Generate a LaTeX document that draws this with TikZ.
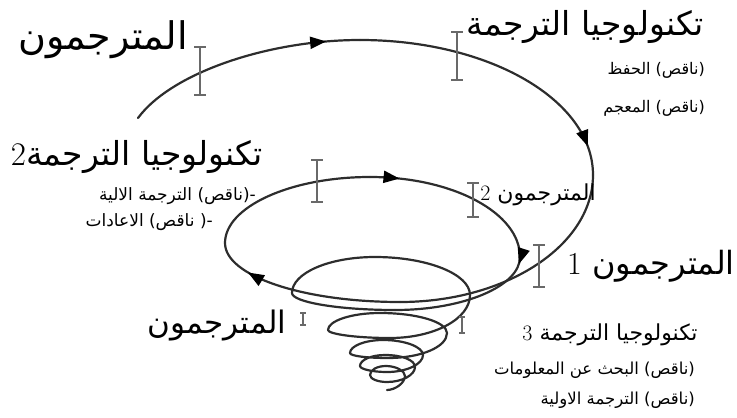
\documentclass[tikz,border=0pt]{standalone}
\usepackage{fontspec}
\usepackage{tikz}
\usetikzlibrary{arrows.meta,decorations.markings}
\TeXXeTstate=1
\newfontfamily\arabicfont[Script=Arabic]{DejaVu Sans}
\definecolor{coilgray}{RGB}{45,45,45}
\definecolor{tickgray}{RGB}{105,105,105}

\begin{document}
\begin{tikzpicture}[x=1pt, y=-1pt, line cap=round, line join=round,
  coil/.style={draw=coilgray, line width=2.2pt},
  coilhead/.style={postaction={decorate}, decoration={markings,
    mark=at position #1 with {\arrow{Triangle[length=16pt,width=12pt,color=black]}}}},
  tickmark/.style={draw=tickgray, line width=2pt, line cap=butt},
  word/.style={font=\arabicfont\fontsize{#1}{#1}\selectfont, inner sep=0pt}]
  \useasboundingbox (0,0) rectangle (737,418);

  % Outer turn: each quarter is drawn on its own so that it can carry its
  % own arrow head.
  \draw[coil, coilhead=.86] (138,118) .. controls (172,72) and (270,40) .. (360,40);
  \draw[coil, coilhead=.9] (360,40) .. controls (489,40) and (593,100) .. (593,175);
  \draw[coil] (593,175) .. controls (593,245) and (507,302) .. (400,302);
  \draw[coil, coilhead=.8] (400,302) .. controls (303,302) and (225,276) .. (225,243);

  % Second turn.
  \draw[coil] (225,243) .. controls (225,207) and (290,177) .. (370,177);
  \draw[coil, coilhead=.16] (370,177) .. controls (453,177) and (520,213) .. (520,257);
  \draw[coil, coilhead=.05] (520,257) .. controls (520,286) and (464,310) .. (395,310);

  % The inner turns narrow down to the tip of the funnel.
  \draw[coil] (395,310)
    .. controls (338,310) and (292,302) .. (292,293)
    .. controls (292,273) and (329,257) .. (375,257)
    .. controls (427,257) and (470,274) .. (470,295)
    .. controls (470,319) and (434,338) .. (390,338)
    .. controls (356,338) and (328,334) .. (328,330)
    .. controls (328,321) and (351,313) .. (380,313)
    .. controls (417,313) and (447,322) .. (447,333)
    .. controls (447,347) and (421,358) .. (388,358)
    .. controls (367,358) and (350,356) .. (350,353)
    .. controls (350,346) and (365,340) .. (383,340)
    .. controls (405,340) and (423,347) .. (423,355)
    .. controls (423,364) and (407,372) .. (387,372)
    .. controls (372,372) and (360,369) .. (360,366)
    .. controls (360,360) and (371,355) .. (385,355)
    .. controls (402,355) and (415,360) .. (415,367)
    .. controls (415,375) and (402,382) .. (387,382)
    .. controls (378,382) and (370,379) .. (370,375)
    .. controls (370,370) and (377,366) .. (386,366)
    .. controls (396,366) and (405,371) .. (405,376)
    .. controls (405,383) and (395,390) .. (387,390);

  % Stage marks across the coil: centre x, centre y, half height, serif.
  \foreach \tx/\ty/\th/\tw in {200/71/24/6, 457/56/24/6, 539/266/21/6,
      317/181/21/6, 473/200/17/6, 303/319/6/3, 462/325/8/3}{
    \draw[tickmark] (\tx,\ty-\th) -- (\tx,\ty+\th)
      (\tx-\tw,\ty-\th) -- (\tx+\tw,\ty-\th)
      (\tx-\tw,\ty+\th) -- (\tx+\tw,\ty+\th);
  }

  % Labels of the outer turn.
  \node[word=38] (trTop) at (103,40) {\beginR المترجمون\endR};
  \node[word=33] (techTop) at (585,27) {\beginR تكنولوجيا الترجمة\endR};
  \node[word=16, anchor=east] (lackMemo) at (705,70) {\beginR (ناقص) الحفظ\endR};
  \node[word=16, anchor=east] (lackDict) at (705,108) {\beginR (ناقص) المعجم\endR};

  % Labels of the second turn.
  \node[word=33] (techTwo) at (137,157) {\beginR تكنولوجيا الترجمة{\rmfamily 2}\endR};
  \node[word=17, anchor=east] (lackMT) at (256,196) {\beginR -(ناقص) الترجمة الالية\endR};
  \node[word=17, anchor=east] (lackRedo) at (213,222) {\beginR -( ناقص) الاعادات\endR};
  \node[word=22] (trTwo) at (538,195) {\beginR المترجمون {\rmfamily 2}\endR};
  \node[word=32] (trOne) at (651,266) {\beginR المترجمون {\rmfamily 1}\endR};

  % Labels of the inner turns.
  \node[word=31] (trLow) at (217,326) {\beginR المترجمون\endR};
  \node[word=22] (techThree) at (610,335) {\beginR تكنولوجيا الترجمة {\rmfamily 3}\endR};
  \node[word=16.5, anchor=east] (lackSearch) at (695,370) {\beginR (ناقص) البحث عن المعلومات\endR};
  \node[word=16.5, anchor=east] (lackFirst) at (695,400) {\beginR (ناقص) الترجمة الاولية\endR};
\end{tikzpicture}
\end{document}
